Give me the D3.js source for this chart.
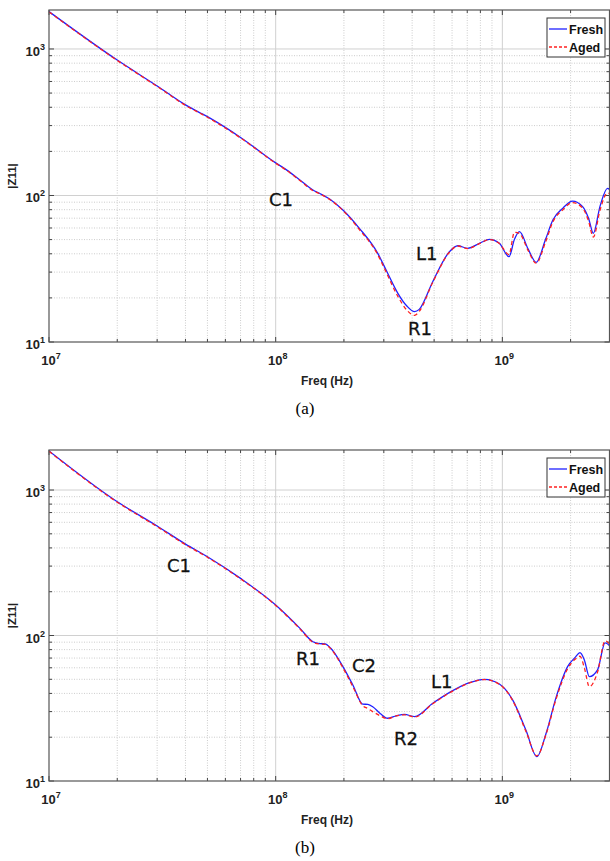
<script src='https://d3js.org/d3.v7.min.js'></script>
<body style="margin:0;background:#fff">
<script>
  // panel (a)
  const freqA = [1e7, 2e7, 3e7, 4e7, 5e7, 7e7, 1e8, 1.12e8, 1.3e8, 1.46e8, 1.56e8, 1.73e8, 1.98e8, 2.34e8, 2.82e8, 3.07e8, 3.46e8, 3.79e8, 4.1e8, 4.3e8, 4.93e8, 5.84e8, 6.36e8, 7.03e8, 8e8, 8.77e8, 9.7e8, 1.07e9, 1.13e9, 1.19e9, 1.3e9, 1.41e9, 1.55e9, 1.67e9, 1.85e9, 2.04e9, 2.26e9, 2.4e9, 2.52e9, 2.7e9, 2.91e9, 3e9];
  const freshA = [1800, 840, 559, 415, 345, 249, 167, 149, 125, 109, 103.5, 94.6, 79.6, 59.7, 40.3, 31, 21.5, 17.6, 16.1, 16.7, 25.8, 41.3, 45.4, 43.6, 47.5, 50.2, 47.2, 38.2, 50, 56.6, 43, 35, 50, 68, 82, 91.6, 84, 70, 55.2, 85, 112, 108];
  const agedA = [1790, 835, 555, 412, 342, 247, 166, 148, 124, 108, 103, 94, 79, 58.5, 39.5, 30, 20.5, 16.5, 15.2, 16.2, 25.5, 41, 45.2, 43.4, 47.3, 50, 47, 39.5, 56, 55, 42, 34.5, 48, 66, 80, 89.5, 82, 67, 52, 80, 104, 102];

  // panel (b)
  const freqB = [1e7, 2e7, 3e7, 4e7, 5e7, 7e7, 1e8, 1.28e8, 1.46e8, 1.56e8, 1.65e8, 1.75e8, 1.98e8, 2.19e8, 2.42e8, 2.55e8, 2.68e8, 2.9e8, 3.12e8, 3.4e8, 3.7e8, 4.1e8, 4.93e8, 6.04e8, 7.16e8, 8.34e8, 9.7e8, 1.11e9, 1.27e9, 1.42e9, 1.56e9, 1.73e9, 1.94e9, 2.1e9, 2.2e9, 2.3e9, 2.42e9, 2.63e9, 2.84e9, 3e9];
  const freshB = [1855, 831, 566, 425, 348, 247, 162, 112, 90.6, 88, 87.5, 81.7, 61.1, 45.7, 33.8, 33.6, 32.4, 29, 27, 28, 28.7, 27.7, 34.2, 41.8, 47.4, 50, 46.4, 36.1, 22.4, 14.7, 21.3, 38, 61.1, 71, 76.2, 68, 52.1, 58, 89, 84];
  const agedB = [1845, 825, 560, 421, 345, 245, 161, 111, 90, 87.5, 87, 81, 60, 44.5, 33, 31.5, 30, 28, 26.8, 28, 28.5, 27.5, 34, 41.5, 47.2, 49.8, 46.2, 35.8, 22, 14.9, 21, 37, 59, 69, 72, 60, 44.5, 56, 92, 86];

  const seriesNames = ["Fresh", "Aged"];
  const colors = ["#1f1fff", "#ff2020"];

  const panels = [
    { freq: freqA, fresh: freshA, aged: agedA, top: 10, bottom: 342, ymax: 1845, caption: "(a)",
      notes: [["C1", 269, 206], ["L1", 416, 260], ["R1", 408, 335]] },
    { freq: freqB, fresh: freshB, aged: agedB, top: 450, bottom: 781, ymax: 1884, caption: "(b)",
      notes: [["C1", 167, 572], ["R1", 296, 665], ["C2", 352, 672], ["L1", 431, 688], ["R2", 394, 745]] }
  ];

  const left = 49, right = 609.5;

  const svg = d3.select("body").append("svg")
    .attr("width", 610)
    .attr("height", 861)
    .style("font-family", "'Liberation Sans', Arial, sans-serif");

  const x = d3.scaleLog().domain([1e7, 3e9]).range([left, 610.5]);

  function sup(sel, base, exp) {
    sel.append("tspan").text(base);
    sel.append("tspan").attr("dy", -6).attr("font-size", 9).text(exp);
  }

  panels.forEach(function(p, pi) {
    const y = d3.scaleLog().domain([10, p.ymax]).range([p.bottom, p.top]);
    const g = svg.append("g");

    const xMinor = [], yMinor = [];
    [1e7, 1e8, 1e9].forEach(function(d) {
      for (let k = 2; k <= 9; k++) if (d * k <= 3e9) xMinor.push(d * k);
    });
    [10, 100, 1000].forEach(function(d) {
      for (let k = 2; k <= 9; k++) if (d * k <= p.ymax) yMinor.push(d * k);
    });
    const xMajor = [1e8, 1e9], yMajor = [100, 1000];

    // grid
    g.selectAll(".gxm").data(xMinor).enter().append("line")
      .attr("x1", d => x(d)).attr("x2", d => x(d))
      .attr("y1", p.top).attr("y2", p.bottom)
      .attr("stroke", "#c0c0c0").attr("stroke-width", 0.8).attr("stroke-dasharray", "1,1.5");
    g.selectAll(".gym").data(yMinor).enter().append("line")
      .attr("x1", left).attr("x2", right)
      .attr("y1", d => y(d)).attr("y2", d => y(d))
      .attr("stroke", "#c0c0c0").attr("stroke-width", 0.8).attr("stroke-dasharray", "1,1.5");
    g.selectAll(".gxM").data(xMajor).enter().append("line")
      .attr("x1", d => x(d)).attr("x2", d => x(d))
      .attr("y1", p.top).attr("y2", p.bottom)
      .attr("stroke", "#d0d0d0").attr("stroke-width", 1);
    g.selectAll(".gyM").data(yMajor).enter().append("line")
      .attr("x1", left).attr("x2", right)
      .attr("y1", d => y(d)).attr("y2", d => y(d))
      .attr("stroke", "#d0d0d0").attr("stroke-width", 1);

    // ticks (inside, bottom/top/left/right)
    const tickCol = "#444";
    [[xMinor, 3], [[1e7].concat(xMajor), 5]].forEach(function(t) {
      g.selectAll(null).data(t[0]).enter().append("line")
        .attr("x1", d => x(d)).attr("x2", d => x(d))
        .attr("y1", p.bottom).attr("y2", p.bottom - t[1]).attr("stroke", tickCol);
      g.selectAll(null).data(t[0]).enter().append("line")
        .attr("x1", d => x(d)).attr("x2", d => x(d))
        .attr("y1", p.top).attr("y2", p.top + t[1]).attr("stroke", tickCol);
    });
    [[yMinor, 3], [[10].concat(yMajor), 5]].forEach(function(t) {
      g.selectAll(null).data(t[0]).enter().append("line")
        .attr("x1", left).attr("x2", left + t[1])
        .attr("y1", d => y(d)).attr("y2", d => y(d)).attr("stroke", tickCol);
      g.selectAll(null).data(t[0]).enter().append("line")
        .attr("x1", right).attr("x2", right - t[1])
        .attr("y1", d => y(d)).attr("y2", d => y(d)).attr("stroke", tickCol);
    });

    // curves
    const clipId = "clip" + pi;
    svg.append("clipPath").attr("id", clipId).append("rect")
      .attr("x", left).attr("y", p.top).attr("width", right - left).attr("height", p.bottom - p.top);

    const line = d3.line()
      .x(d => x(d[0])).y(d => y(d[1]))
      .curve(d3.curveMonotoneX);

    g.append("path")
      .datum(d3.zip(p.freq, p.fresh))
      .attr("clip-path", "url(#" + clipId + ")")
      .attr("d", line).attr("fill", "none")
      .attr("stroke", colors[0]).attr("stroke-width", 1.3);
    g.append("path")
      .datum(d3.zip(p.freq, p.aged))
      .attr("clip-path", "url(#" + clipId + ")")
      .attr("d", line).attr("fill", "none")
      .attr("stroke", colors[1]).attr("stroke-width", 1.3).attr("stroke-dasharray", "4,3");

    // box
    g.append("rect")
      .attr("x", left).attr("y", p.top)
      .attr("width", right - left).attr("height", p.bottom - p.top)
      .attr("fill", "none").attr("stroke", "#555").attr("stroke-width", 1.2);

    // tick labels
    [[1e7, "7"], [1e8, "8"], [1e9, "9"]].forEach(function(t) {
      g.append("text").attr("x", x(t[0]) + 2).attr("y", p.bottom + 23)
        .attr("text-anchor", "middle").attr("font-size", 13).attr("font-weight", "bold")
        .attr("fill", "#222").call(sup, "10", t[1]);
    });
    [[10, "1"], [100, "2"], [1000, "3"]].forEach(function(t) {
      g.append("text").attr("x", 45).attr("y", y(t[0]) + 7)
        .attr("text-anchor", "end").attr("font-size", 13).attr("font-weight", "bold")
        .attr("fill", "#222").call(sup, "10", t[1]);
    });

    // axis titles
    g.append("text").attr("x", 327).attr("y", p.bottom + 43)
      .attr("text-anchor", "middle").attr("font-size", 12).attr("font-weight", "bold")
      .attr("fill", "#222").text("Freq (Hz)");
    const ym = (p.top + p.bottom) / 2;
    g.append("text").attr("transform", "translate(16," + ym + ") rotate(-90)")
      .attr("text-anchor", "middle").attr("font-size", 11.5).attr("font-weight", "bold")
      .attr("fill", "#222").text("|Z11|");

    // annotations
    g.selectAll(".note").data(p.notes).enter().append("text")
      .attr("x", d => d[1]).attr("y", d => d[2])
      .attr("font-family", "'DejaVu Sans', sans-serif").attr("font-size", 18)
      .attr("fill", "#111").attr("stroke", "#111").attr("stroke-width", 0.3)
      .text(d => d[0]);

    // legend
    const lx = 547, ly = p.top + 8;
    g.append("rect").attr("x", lx).attr("y", ly).attr("width", 58).attr("height", 39)
      .attr("fill", "#fff").attr("stroke", "#333").attr("stroke-width", 1);
    seriesNames.forEach(function(name, i) {
      const yy = ly + 11 + i * 18;
      g.append("line").attr("x1", lx + 2).attr("x2", lx + 20)
        .attr("y1", yy).attr("y2", yy)
        .attr("stroke", colors[i]).attr("stroke-width", 1.3)
        .attr("stroke-dasharray", i ? "3,2" : null);
      g.append("text").attr("x", lx + 22).attr("y", yy + 4.5)
        .attr("font-size", 12.5).attr("font-weight", "bold").attr("fill", "#111").text(name);
    });

    // caption
    g.append("text").attr("x", 305).attr("y", p.bottom + 72)
      .attr("text-anchor", "middle").attr("font-family", "'Liberation Serif', 'Times New Roman', serif")
      .attr("font-size", 17).attr("fill", "#000").text(p.caption);
  });
</script>
</body>
